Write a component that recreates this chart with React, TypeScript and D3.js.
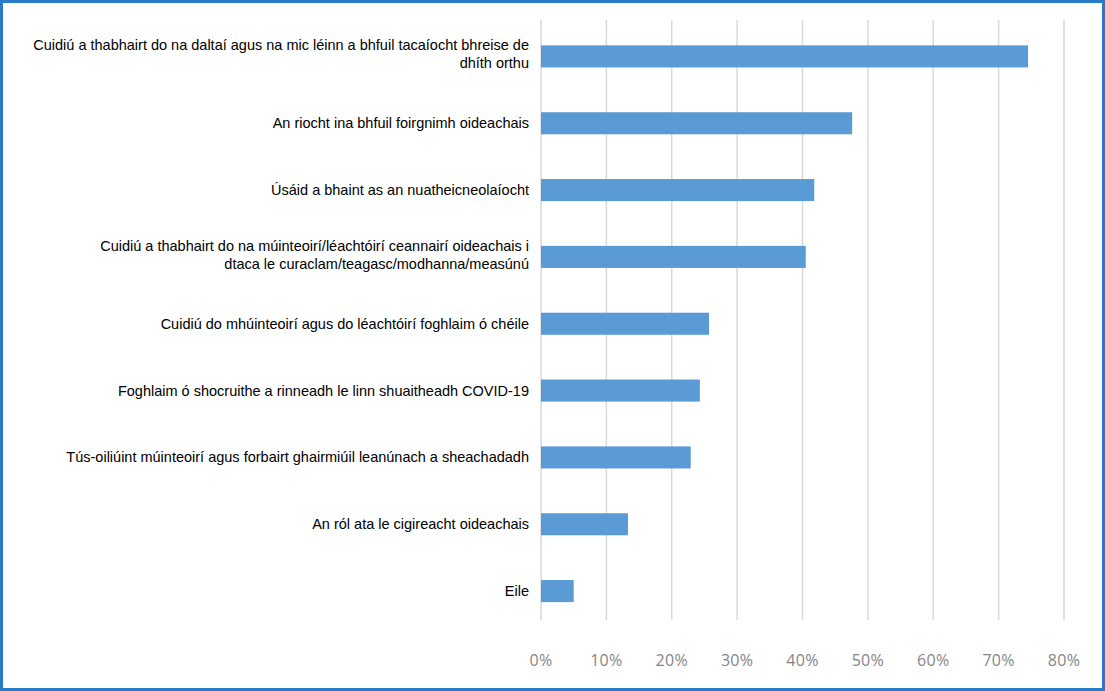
import React from "react";
import * as d3 from "d3";

const categories: string[][] = [
  ["Cuidiú a thabhairt do na daltaí agus na mic léinn a bhfuil tacaíocht bhreise de", "dhíth orthu"],
  ["An riocht ina bhfuil foirgnimh oideachais"],
  ["Úsáid a bhaint as an nuatheicneolaíocht"],
  ["Cuidiú a thabhairt do na múinteoirí/léachtóirí ceannairí oideachais i", "dtaca le curaclam/teagasc/modhanna/measúnú"],
  ["Cuidiú do mhúinteoirí agus do léachtóirí foghlaim ó chéile"],
  ["Foghlaim ó shocruithe a rinneadh le linn shuaitheadh COVID-19"],
  ["Tús-oiliúint múinteoirí agus forbairt ghairmiúil leanúnach a sheachadadh"],
  ["An ról ata le cigireacht oideachais"],
  ["Eile"],
];
const values: number[] = [74.5, 47.6, 41.8, 40.5, 25.7, 24.3, 22.9, 13.3, 5.0];
const ticks: number[] = [0, 10, 20, 30, 40, 50, 60, 70, 80];

const W = 1105;
const H = 691;

export default function App() {
  const x = d3.scaleLinear().domain([0, 80]).range([541, 1064]);
  const ids = categories.map((_, i) => String(i));
  const y = d3.scaleBand().domain(ids).range([23, 624.5]).paddingInner(0.67).paddingOuter(0.335);
  const bw = y.bandwidth();
  return (
    <svg width={W} height={H} style={{ position: "absolute", left: 0, top: 0, display: "block" }}>
      <rect x={0} y={0} width={W} height={H} fill="#ffffff" />
      {ticks.map((t) => (
        <line key={"g" + t} x1={x(t)} x2={x(t)} y1={20} y2={620} stroke="#d9d9d9" strokeWidth={1.5} />
      ))}
      {values.map((v, i) => (
        <rect key={"b" + i} x={x(0)} y={y(String(i))!} width={x(v) - x(0)} height={bw} fill="#5b9bd5" />
      ))}
      {categories.map((lines, i) => {
        const cy = y(String(i))! + bw / 2;
        const lh = 18;
        const start = cy - ((lines.length - 1) * lh) / 2 - (lines.length > 1 ? 2 : 0);
        return (
          <text key={"c" + i} x={529} textAnchor="end" fontFamily="Liberation Sans, Arial, sans-serif" fontSize={14.5} fill="#000">
            {lines.map((l, j) => (
              <tspan key={j} x={529} y={start + j * lh} dy="0.35em">{l}</tspan>
            ))}
          </text>
        );
      })}
      {ticks.map((t) => (
        <text key={"t" + t} x={x(t)} y={660} textAnchor="middle" dy="0.35em" fontFamily="Open Sans, sans-serif" fontSize={16} letterSpacing={0.3} fill="#858585">
          {d3.format(".0%")(t / 100)}
        </text>
      ))}
      <rect x={1.5} y={1.5} width={W - 3} height={H - 3} fill="none" stroke="#2a7bc7" strokeWidth={3} />
    </svg>
  );
}
